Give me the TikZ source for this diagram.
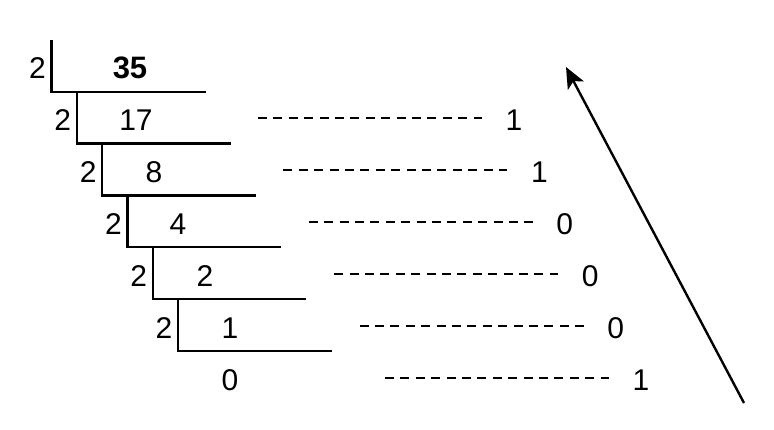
\documentclass[tikz,border=0pt]{standalone}
\usepackage{fontspec}
\setmainfont{Liberation Sans}
\usetikzlibrary{arrows.meta}

\begin{document}
\begin{tikzpicture}[x=1pt,y=-1pt,
    num/.style={font=\fontsize{30}{32}\selectfont, inner sep=0pt},
    rule/.style={line width=2.4pt},
    dots/.style={line width=2.3pt, dash pattern=on 9pt off 6.4pt}]
    \useasboundingbox (0,0) rectangle (774,430);
    % ladder of divisions by 2
    \foreach \i/\top in {0/40,1/91.8,2/143.6,3/195.4,4/247.2,5/299}{
      \node[num] (d\i) at ({37.5+25.3*\i},{68+52*\i}) {2};
      \draw[rule] ({51.5+25.3*\i},\top) -- ({51.5+25.3*\i},{91.8+51.8*\i}) -- ({205.5+25.2*\i},{91.8+51.8*\i});
    }
    \node[num,font=\fontsize{31}{32}\selectfont\bfseries] (q0) at (130,68) {35};
    \foreach \k/\q/\x in {1/17/136,2/8/154,3/4/178,4/2/205,5/1/230,6/0/230}
      \node[num] (q\k) at (\x,{68+52*\k}) {\q};
    % remainders
    \foreach \k/\r in {1/1,2/1,3/0,4/0,5/0,6/1}{
      \node[num] (r\k) at ({514+25.4*(\k-1)},{68+52*\k}) {\r};
      \coordinate (a\k) at ({258+25.4*(\k-1)},{118+52*(\k-1)});
      \coordinate (b\k) at ({482+25.4*(\k-1)},{118+52*(\k-1)});
      \draw[dots] (a\k) -- (b\k);
    }
    % read upwards
    \coordinate (start) at (744,403);
    \coordinate (tip) at (566,67);
    \draw[rule,-{Stealth[length=21pt,width=18pt,inset=5pt]}] (start) -- (tip);
\end{tikzpicture}
\end{document}
